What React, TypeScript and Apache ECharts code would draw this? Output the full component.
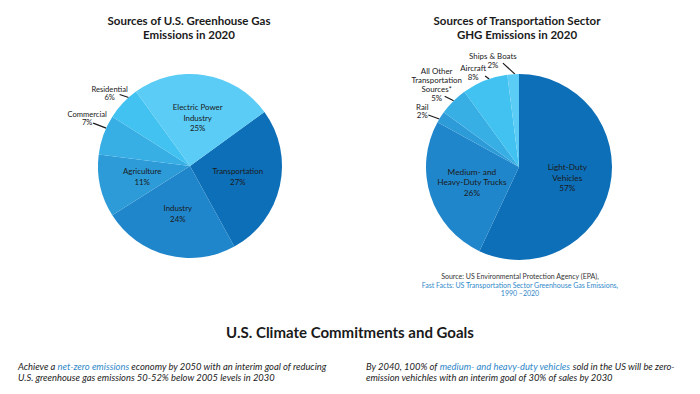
import React, { useEffect, useRef } from "react";
import * as echarts from "echarts";

const usCategories = ["Transportation", "Industry", "Agriculture", "Commercial", "Residential", "Electric Power Industry"];
const usLabels = ["Transportation", "Industry", "Agriculture", "Commercial", "Residential", "Electric Power\nIndustry"];
const usValues = [27, 24, 11, 7, 6, 25];
const usOutside = [false, false, false, true, true, false];

const trCategories = ["Light-Duty Vehicles", "Medium- and Heavy-Duty Trucks", "Rail", "All Other Transportation Sources*", "Aircraft", "Ships & Boats"];
const trLabels = ["Light-Duty\nVehicles", "Medium- and\nHeavy-Duty Trucks", "Rail", "All Other\nTransportation\nSources*", "Aircraft", "Ships & Boats"];
const trValues = [57, 26, 2, 5, 8, 2];
const trOutside = [false, false, true, true, true, true];

const blues = ["#0d6fb8", "#2086cb", "#2c9bd8", "#37afe5", "#41c2f0", "#5bccf5"];

const FONT = "Lato";
const INK = "#1a1a1a";
const LINK = "#2f88c9";

// pie geometry (layout)
type Pie = { cx: number; cy: number; r: number; start: number };
const US_PIE: Pie = { cx: 190, cy: 166, r: 92, start: 36 };
const TR_PIE: Pie = { cx: 519, cy: 167, r: 93, start: 90 };
// outside label layout: where along the slice the leader starts (0..1), leader vector, label offset from leader end
type LeaderCfg = { f: number; v: [number, number]; t: [number, number] };
const usLeaders: Record<number, LeaderCfg> = {
  3: { f: 0.68, v: [-13, -5], t: [-6, -5] },
  4: { f: 0.73, v: [-9, -3], t: [-10, -1.5] },
};
const trLeaders: Record<number, LeaderCfg> = {
  2: { f: 0.31, v: [-11, -4], t: [-6, -4] },
  3: { f: 0.52, v: [-9, -4.5], t: [-8, -12] },
  4: { f: 0.6, v: [-4, -3], t: [-12, -3.5] },
  5: { f: 0.65, v: [-12, -11], t: [-10, -2.6] },
};

function edgePoint(pie: Pie, vals: number[], idx: number, f: number) {
  const total = vals.reduce((a, b) => a + b, 0);
  let acc = 0;
  for (let i = 0; i < idx; i++) acc += vals[i];
  const ang = pie.start - ((acc + vals[idx] * f) / total) * 360;
  const rad = (ang * Math.PI) / 180;
  return [pie.cx + pie.r * Math.cos(rad), pie.cy - pie.r * Math.sin(rad)];
}

function makeData(
  cats: string[],
  labels: string[],
  vals: number[],
  outside: boolean[],
  outSize: number,
  outLH: number,
  inSize: number,
  inLH: number
) {
  return cats.map((name, i) => {
    const lines = labels[i].split("\n").concat([vals[i] + "%"]);
    const fmt = lines.map((l) => "{c|" + l + "}").join("\n");
    const size = outside[i] ? outSize : inSize;
    const lh = outside[i] ? outLH : inLH;
    return {
      name,
      value: vals[i],
      itemStyle: { color: blues[i] },
      label: {
        show: true,
        position: outside[i] ? "outside" : "inside",
        formatter: fmt,
        color: INK,
        fontFamily: FONT,
        fontSize: size,
        lineHeight: lh,
        rich: { c: { align: "center", fontFamily: FONT, fontSize: size, lineHeight: lh, color: INK } },
      },
      labelLine: { show: outside[i], length: 6, length2: 0, minTurnAngle: 0, lineStyle: { color: INK, width: 1.2 } },
    };
  });
}

function makeLayout(pie: Pie, vals: number[], leaders: Record<number, LeaderCfg>) {
  return (params: any) => {
    const c = leaders[params.dataIndex];
    if (!c) return { hideOverlap: false };
    const e = edgePoint(pie, vals, params.dataIndex, c.f);
    const end = [e[0] + c.v[0], e[1] + c.v[1]];
    return {
      x: end[0] + c.t[0],
      y: end[1] + c.t[1],
      align: "center",
      verticalAlign: "middle",
      hideOverlap: false,
      labelLinePoints: [e, end, end],
    };
  };
}

export default function App() {
  const ref = useRef<HTMLDivElement>(null);
  useEffect(() => {
    if (!ref.current) return;
    const chart = echarts.init(ref.current, undefined, { renderer: "svg" });
    const titleStyle = { fontFamily: FONT, fontSize: 11.5, fontWeight: "bold" as const, color: INK, lineHeight: 14 };
    const paraStyle = {
      fontFamily: FONT,
      fontSize: 9.4,
      fontStyle: "italic" as const,
      fontWeight: "normal" as const,
      color: "#222",
      lineHeight: 10.7,
      rich: { b: { fontFamily: FONT, fontSize: 9.4, fontStyle: "italic" as const, color: LINK, lineHeight: 10.7 } },
    };
    chart.setOption({
      animation: false,
      backgroundColor: "#ffffff",
      title: [
        { text: "Sources of U.S. Greenhouse Gas\nEmissions in 2020", left: 189, top: 13, textAlign: "center", textStyle: titleStyle, padding: 0 },
        { text: "Sources of Transportation Sector\nGHG Emissions in 2020", left: 517, top: 13, textAlign: "center", textStyle: titleStyle, padding: 0 },
        {
          text: "Source: US Environmental Protection Agency (EPA),\n{b|Fast Facts: US Transportation Sector Greenhouse Gas Emissions,}\n{b|1990 \u20132020}",
          left: 520,
          top: 272,
          textAlign: "center",
          padding: 0,
          textStyle: {
            fontFamily: FONT,
            fontSize: 7,
            fontWeight: "normal",
            color: "#333",
            lineHeight: 8.5,
            rich: { b: { fontFamily: FONT, fontSize: 7, color: LINK, lineHeight: 8.5 } },
          },
        },
        {
          text: "U.S. Climate Commitments and Goals",
          left: 350,
          top: 324,
          textAlign: "center",
          padding: 0,
          textStyle: { fontFamily: FONT, fontSize: 15, fontWeight: "bold", color: INK },
        },
        {
          text: "Achieve a {b|net-zero emissions} economy by 2050 with an interim goal of reducing\nU.S. greenhouse gas emissions 50-52% below 2005 levels in 2030",
          left: 18,
          top: 361,
          padding: 0,
          textStyle: paraStyle,
        },
        {
          text: "By 2040, 100% of {b|medium- and heavy-duty vehicles} sold in the US will be zero-\nemission vehichles with an interim goal of 30% of sales by 2030",
          left: 366,
          top: 361,
          padding: 0,
          textStyle: paraStyle,
        },
      ],
      series: [
        {
          type: "pie",
          center: [US_PIE.cx, US_PIE.cy],
          radius: US_PIE.r,
          startAngle: US_PIE.start,
          clockwise: true,
          avoidLabelOverlap: false,
          itemStyle: { borderWidth: 0 },
          emphasis: { disabled: true },
          labelLine: { lineStyle: { color: INK, width: 1.2 } },
          labelLayout: makeLayout(US_PIE, usValues, usLeaders),
          data: makeData(usCategories, usLabels, usValues, usOutside, 7.6, 8.5, 7.9, 10.5),
        },
        {
          type: "pie",
          center: [TR_PIE.cx, TR_PIE.cy],
          radius: TR_PIE.r,
          startAngle: TR_PIE.start,
          clockwise: true,
          avoidLabelOverlap: false,
          itemStyle: { borderWidth: 0 },
          emphasis: { disabled: true },
          labelLine: { lineStyle: { color: INK, width: 1.2 } },
          labelLayout: makeLayout(TR_PIE, trValues, trLeaders),
          data: makeData(trCategories, trLabels, trValues, trOutside, 7.9, 8.8, 8.3, 10.4),
        },
      ],
    });
    return () => chart.dispose();
  }, []);
  return <div ref={ref} style={{ position: "fixed", left: 0, top: 0, width: 700, height: 394 }} />;
}
